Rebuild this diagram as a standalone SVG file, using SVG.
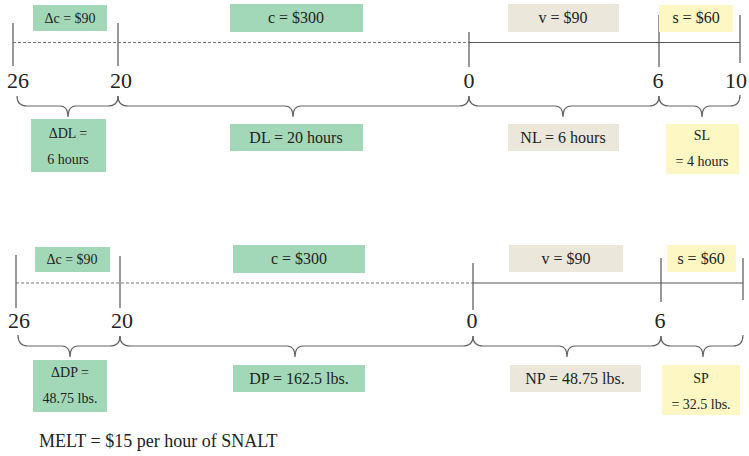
<svg xmlns="http://www.w3.org/2000/svg" width="749" height="456" viewBox="0 0 749 456">
<style>
  .g{fill:#a2d8b8}
  .b{fill:#ece7db}
  .y{fill:#fdf7c4}
  text{font-family:"Liberation Serif","Times New Roman",serif;fill:#222;text-anchor:middle}
  .m{font-size:16px}
  .s{font-size:14px}
  .n{font-size:22px}
  .ln{stroke:#555;stroke-width:1.2;fill:none}
  .ds{stroke:#777;stroke-width:1.1;stroke-dasharray:3 2;fill:none}
  .br{stroke:#666;stroke-width:1.2;fill:none}
</style>
<rect width="749" height="456" fill="#fff"/>

<g id="connectors">
  <!-- top timeline -->
  <line class="ds" x1="13" y1="42.5" x2="469" y2="42.5"/>
  <line class="ln" x1="469" y1="42.5" x2="740" y2="42.5"/>
  <line class="ln" x1="13" y1="23" x2="13" y2="66"/>
  <line class="ln" x1="118" y1="23" x2="118" y2="66"/>
  <line class="ln" x1="469" y1="32" x2="469" y2="67"/>
  <line class="ln" x1="659" y1="15" x2="659" y2="67"/>
  <line class="ln" x1="740" y1="15" x2="740" y2="63"/>
  <!-- top braces -->
  <path class="br" d="M17,96 Q17,106 27,106 L60,106 Q68,106 68,117 Q68,106 76,106 L108,106 Q118,106 118,96"/>
  <path class="br" d="M118,96 Q118,106 128,106 L285,106 Q293,106 293,117 Q293,106 301,106 L459,106 Q469,106 469,96"/>
  <path class="br" d="M469,96 Q469,106 479,106 L555,106 Q563,106 563,117 Q563,106 571,106 L649,106 Q659,106 659,96"/>
  <path class="br" d="M659,96 Q659,106 669,106 L694,106 Q702,106 702,117 Q702,106 710,106 L730,106 Q740,106 740,95"/>
  <!-- bottom timeline -->
  <line class="ds" x1="16" y1="283" x2="473" y2="283"/>
  <line class="ln" x1="473" y1="283" x2="743" y2="283"/>
  <line class="ln" x1="16" y1="255" x2="16" y2="308"/>
  <line class="ln" x1="120" y1="256" x2="120" y2="308"/>
  <line class="ln" x1="473" y1="263" x2="473" y2="310"/>
  <line class="ln" x1="661" y1="258" x2="661" y2="302"/>
  <line class="ln" x1="743" y1="258" x2="743" y2="300"/>
  <!-- bottom braces -->
  <path class="br" d="M18,335 Q18,346 28,346 L62,346 Q70,346 70,357 Q70,346 78,346 L110,346 Q120,346 120,336"/>
  <path class="br" d="M120,336 Q120,346 130,346 L287,346 Q295,346 295,357 Q295,346 303,346 L463,346 Q473,346 473,336"/>
  <path class="br" d="M473,336 Q473,346 483,346 L559,346 Q567,346 567,357 Q567,346 575,346 L651,346 Q661,346 661,336"/>
  <path class="br" d="M661,336 Q661,346 671,346 L695,346 Q703,346 703,357 Q703,346 711,346 L733,346 Q743,346 743,335"/>
</g>

<!-- top diagram -->
<g id="top-dc"><rect class="g" x="33" y="5" width="74" height="26"/><text class="s" x="70" y="23">Δc = $90</text></g>
<g id="top-c"><rect class="g" x="230" y="4" width="133" height="28"/><text class="m" x="296" y="23">c = $300</text></g>
<g id="top-v"><rect class="b" x="508" y="4" width="111" height="28"/><text class="m" x="563" y="23">v = $90</text></g>
<g id="top-s"><rect class="y" x="659" y="5" width="74" height="27"/><text class="m" x="696" y="23">s = $60</text></g>
<g id="top-ticks">
  <text class="n" x="18" y="88">26</text>
  <text class="n" x="121" y="88">20</text>
  <text class="n" x="469" y="88">0</text>
  <text class="n" x="658" y="88">6</text>
  <text class="n" x="747" y="88" style="text-anchor:end">10</text>
</g>
<g id="top-ddl"><rect class="g" x="31" y="119" width="75" height="53"/><text class="s" x="68" y="138">ΔDL =</text><text class="s" x="68" y="164">6 hours</text></g>
<g id="top-dl"><rect class="g" x="230" y="124" width="133" height="27"/><text class="m" x="296" y="143">DL = 20 hours</text></g>
<g id="top-nl"><rect class="b" x="508" y="124" width="111" height="27"/><text class="m" x="563" y="143">NL = 6 hours</text></g>
<g id="top-sl"><rect class="y" x="666" y="124" width="73" height="50"/><text class="s" x="702" y="140">SL</text><text class="s" x="702" y="166">= 4 hours</text></g>

<!-- bottom diagram -->
<g id="bot-dc"><rect class="g" x="35" y="247" width="75" height="25"/><text class="s" x="72" y="264">Δc = $90</text></g>
<g id="bot-c"><rect class="g" x="233" y="245" width="132" height="28"/><text class="m" x="299" y="264">c = $300</text></g>
<g id="bot-v"><rect class="b" x="509" y="245" width="114" height="27"/><text class="m" x="566" y="264">v = $90</text></g>
<g id="bot-s"><rect class="y" x="667" y="245" width="69" height="27"/><text class="m" x="701" y="264">s = $60</text></g>
<g id="bot-ticks">
  <text class="n" x="19" y="328">26</text>
  <text class="n" x="122" y="328">20</text>
  <text class="n" x="472" y="328">0</text>
  <text class="n" x="660" y="328">6</text>
</g>
<g id="bot-ddp"><rect class="g" x="33" y="360" width="74" height="52"/><text class="s" x="70" y="377">ΔDP =</text><text class="s" x="70" y="403">48.75 lbs.</text></g>
<g id="bot-dp"><rect class="g" x="233" y="365" width="132" height="27"/><text class="m" x="299" y="384">DP = 162.5 lbs.</text></g>
<g id="bot-np"><rect class="b" x="510" y="365" width="131" height="27"/><text class="m" x="575" y="384">NP = 48.75 lbs.</text></g>
<g id="bot-sp"><rect class="y" x="662" y="365" width="78" height="50"/><text class="s" x="701" y="383">SP</text><text class="s" x="701" y="409">= 32.5 lbs.</text></g>
<g id="melt"><text x="39" y="447" style="font-size:18px;text-anchor:start">MELT = $15 per hour of SNALT</text></g>
</svg>
